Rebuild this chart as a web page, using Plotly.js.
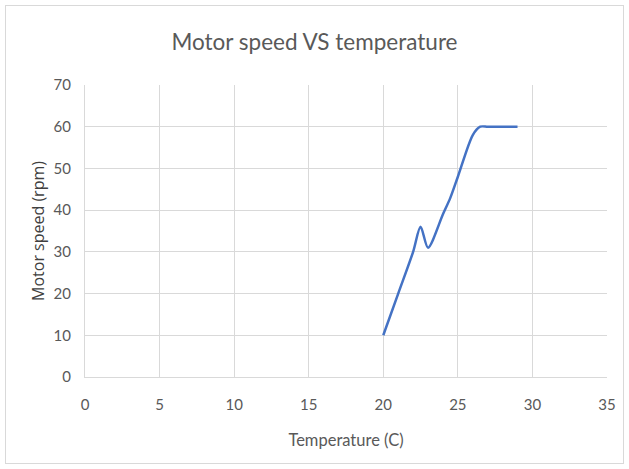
<!DOCTYPE html>
<html>
<head>
<meta charset="utf-8">
<script src="https://cdn.plot.ly/plotly-3.0.1.min.js"></script>
<style>
html,body{margin:0;padding:0;background:#fff;}
#chart{width:629px;height:469px;position:relative;}
#frame{position:absolute;left:5px;top:5px;width:619px;height:459px;border:1px solid #d9d9d9;box-sizing:border-box;pointer-events:none;z-index:10;}
</style>
</head>
<body>
<div style="position:relative;width:629px;height:469px;">
<div id="chart"></div>
<div id="frame"></div>
</div>
<script>
const temperature = [20, 21, 22, 22.5, 23, 24, 24.5, 25, 26, 26.5, 27, 28, 29];
const motorSpeed = [10, 20, 30, 36, 31, 39, 43, 48, 58, 60, 60, 60, 60];
const xTicks = [0, 5, 10, 15, 20, 25, 30, 35];
const yTicks = [0, 10, 20, 30, 40, 50, 60, 70];

const font = "Lato, 'Open Sans', sans-serif";
const trace = {
  x: temperature,
  y: motorSpeed,
  type: 'scatter',
  mode: 'lines',
  line: {color: '#4472C4', width: 2.5, shape: 'spline', smoothing: 0.8},
  hoverinfo: 'x+y'
};
const layout = {
  width: 629, height: 469,
  margin: {l: 85, r: 22, t: 85, b: 92},
  paper_bgcolor: '#fff', plot_bgcolor: '#fff',
  showlegend: false,
  title: {text: 'Motor speed VS temperature', x: 0.5, xanchor: 'center', y: 0.91, yanchor: 'middle',
          font: {family: font, size: 22.5, color: '#595959'}},
  xaxis: {
    range: [0, 35], tickvals: xTicks, ticktext: xTicks.map(String),
    showgrid: true, gridcolor: '#d9d9d9', gridwidth: 1,
    zeroline: false, showline: true, linecolor: '#d9d9d9', mirror: false,
    ticks: 'outside', ticklen: 14, tickcolor: 'rgba(0,0,0,0)',
    tickfont: {family: font, size: 15, color: '#595959'},
    title: {text: 'Temperature (C)', font: {family: font, size: 16.5, color: '#595959'}, standoff: 22}
  },
  yaxis: {
    range: [0, 70], tickvals: yTicks, ticktext: yTicks.map(String),
    showgrid: true, gridcolor: '#d9d9d9', gridwidth: 1,
    zeroline: false, showline: true, linecolor: '#d9d9d9',
    ticks: 'outside', ticklen: 10, tickcolor: 'rgba(0,0,0,0)',
    tickfont: {family: font, size: 15, color: '#595959'},
    title: {text: 'Motor speed (rpm)', font: {family: "Open Sans, sans-serif", size: 16, color: '#404040'}, standoff: 4}
  }
};
Plotly.newPlot('chart', [trace], layout, {displayModeBar: false, staticPlot: true});
</script>
</body>
</html>
